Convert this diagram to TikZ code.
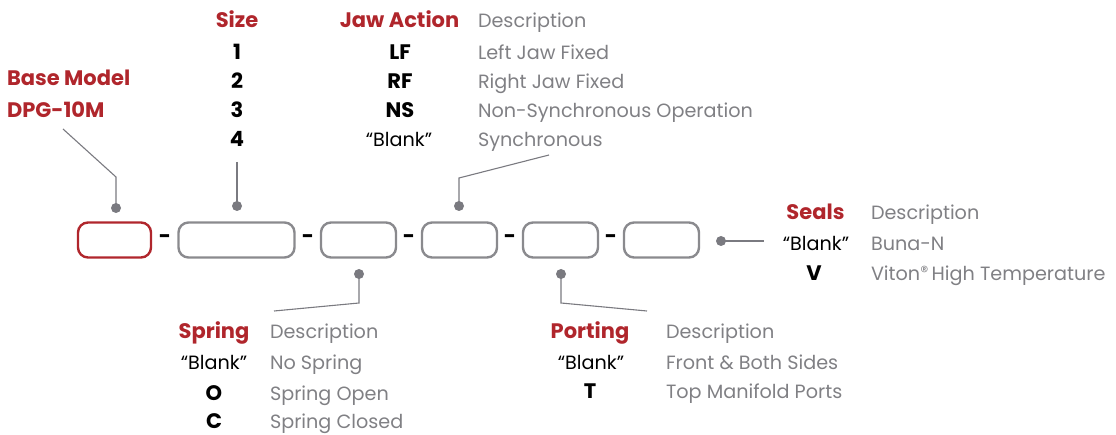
\documentclass[tikz,border=0pt]{standalone}
\usepackage{fontspec}
\setmainfont{Poppins}
\definecolor{hdred}{HTML}{B0262C}
\definecolor{dgray}{HTML}{808084}
\definecolor{bgray}{HTML}{8A8A8E}
\definecolor{lgray}{HTML}{7A7A80}
\newcommand{\bfsz}{\fontsize{21}{24}\selectfont\bfseries}
\begin{document}
\begin{tikzpicture}[x=1pt,y=-1pt,
  every node/.style={inner sep=0pt,outer sep=0pt,font=\fontsize{19.2}{22}\selectfont},
  hdr/.style={anchor=base,text=hdred,font=\bfsz},
  code/.style={anchor=base,text=black,font=\bfsz},
  blank/.style={anchor=base,text=black},
  desc/.style={anchor=base west,text=dgray},
  slot/.style={draw=bgray,line width=2.4pt,rounded corners=10pt,minimum height=35pt},
  redslot/.style={slot,draw=hdred},
  sep/.style={anchor=center,text=black,font=\bfsz},
  lead/.style={draw=lgray,line width=1.1pt},
  pin/.style={fill=lgray,circle,minimum size=10pt}]
\useasboundingbox (0,0) rectangle (1116,435);

% slots
\node[redslot,minimum width=73pt] (b1) at (114.5,240) {};
\node[slot,minimum width=116pt] (b2) at (236.5,240) {};
\node[slot,minimum width=75pt] (b3) at (358.5,240) {};
\node[slot,minimum width=75pt] (b4) at (459.5,240) {};
\node[slot,minimum width=75pt] (b5) at (560.5,240) {};
\node[slot,minimum width=75pt] (b6) at (661.5,240) {};
\node[sep] (s1) at (165,239) {-};
\node[sep] (s2) at (308,239) {-};
\node[sep] (s3) at (409,239) {-};
\node[sep] (s4) at (510,239) {-};
\node[sep] (s5) at (611,239) {-};

% Base model
\node[anchor=base west,text=hdred,font=\bfsz] (bm) at (7,86) {Base Model};
\node[anchor=base west,text=hdred,font=\bfsz] (dpg) at (7,118) {DPG-10M};
\node[pin] (p1) at (116,208) {};
\coordinate (c1a) at (63,129);
\coordinate (c1b) at (116,177);
\draw[lead] (c1a) -- (c1b) -- (p1.center);

% Size
\node[hdr] (size) at (237,28) {Size};
\node[code] (z1) at (237,60) {1};
\node[code] (z2) at (237,89) {2};
\node[code] (z3) at (237,118) {3};
\node[code] (z4) at (237,147) {4};
\node[pin] (p2) at (237,206) {};
\coordinate (c2a) at (237,162);
\draw[lead] (c2a) -- (p2.center);

% Jaw action
\node[hdr] (jaw) at (399.5,28) {Jaw Action};
\node[desc] (jawd) at (478,28) {Description};
\node[code] (lf) at (400,60) {LF};
\node[desc] (lfd) at (478,60) {Left Jaw Fixed};
\node[code] (rf) at (400,89) {RF};
\node[desc] (rfd) at (478,89) {Right Jaw Fixed};
\node[code] (ns) at (400,118) {NS};
\node[desc] (nsd) at (478,118) {Non-Synchronous Operation};
\node[blank] (jb) at (399,147) {“Blank”};
\node[desc] (jbd) at (478,147) {Synchronous};
\node[pin] (p4) at (459,206) {};
\coordinate (c4a) at (549,155);
\coordinate (c4b) at (459,178);
\draw[lead] (c4a) -- (c4b) -- (p4.center);

% Spring
\node[pin] (p3) at (359,274) {};
\coordinate (c3a) at (359,303);
\coordinate (c3b) at (274,311);
\draw[lead] (p3.center) -- (c3a) -- (c3b);
\node[hdr] (spr) at (214,339) {Spring};
\node[desc] (sprd) at (270,339) {Description};
\node[blank] (sb) at (214,370) {“Blank”};
\node[desc] (sbd) at (270,370) {No Spring};
\node[code] (so) at (214,400) {O};
\node[desc] (sod) at (270,400) {Spring Open};
\node[code] (sc) at (214,428) {C};
\node[desc] (scd) at (270,428) {Spring Closed};

% Porting
\node[pin] (p5) at (561,274) {};
\coordinate (c5a) at (561,303);
\coordinate (c5b) at (647,311);
\draw[lead] (p5.center) -- (c5a) -- (c5b);
\node[hdr] (prt) at (590,339) {Porting};
\node[desc] (prtd) at (666,339) {Description};
\node[blank] (pb) at (591,370) {“Blank”};
\node[desc] (pbd) at (666,370) {Front \& Both Sides};
\node[code] (pt) at (590,399) {T};
\node[desc] (ptd) at (666,399) {Top Manifold Ports};

% Seals
\node[pin] (p6) at (721,241) {};
\coordinate (c6a) at (764,241);
\draw[lead] (p6.center) -- (c6a);
\node[hdr] (seal) at (815.5,220) {Seals};
\node[desc] (seald) at (871,220) {Description};
\node[blank] (eb) at (816,251) {“Blank”};
\node[desc] (ebd) at (871,251) {Buna-N};
\node[code] (ev) at (814,281) {V};
\node[desc] (evd) at (871,281) {Viton{\fontsize{16}{16}\selectfont\raisebox{3pt}{®}}\,High Temperature};
\end{tikzpicture}
\end{document}
